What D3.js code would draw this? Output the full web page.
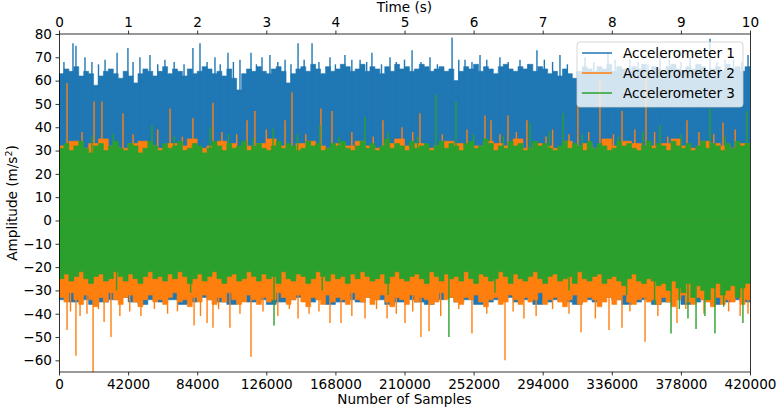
<!DOCTYPE html>
<html>
<head>
<meta charset="utf-8">
<script src="https://cdn.jsdelivr.net/npm/d3@7/dist/d3.min.js"></script>
<style>
  body { margin: 0; background: #fff; }
  svg { font-family: "DejaVu Sans", sans-serif; }
</style>
</head>
<body>
<svg id="chart" width="777" height="409"></svg>
<script>
// envelope of each accelerometer, read off the picture bin by bin
// (bin width = totalSamples / array length)
const totalSamples = 420000;
const seriesNames = ["Accelerometer 1", "Accelerometer 2", "Accelerometer 3"];
const colors = ["#1f77b4", "#ff7f0e", "#2ca02c"];

const blueUpper = [63, 65, 64, 66, 62, 64, 63, 58, 62, 64, 65, 63, 61, 64, 62, 59, 63, 65, 64, 62,
  64, 66, 63, 65, 64, 62, 65, 63, 64, 66, 65, 63, 64, 62, 65, 61, 56, 63, 65, 64,
  66, 64, 63, 65, 66, 64, 59, 63, 65, 66, 64, 67, 65, 63, 66, 64, 65, 67, 66, 64,
  65, 67, 64, 66, 65, 63, 66, 64, 67, 65, 66, 64, 65, 67, 66, 64, 65, 66, 64, 65,
  60, 64, 66, 65, 67, 64, 66, 65, 63, 66, 67, 65, 64, 66, 65, 67, 64, 66, 65, 63,
  64, 62, 65, 63, 61, 64, 66, 65, 64, 66, 65, 67, 64, 66, 65, 64, 66, 65, 67, 64,
  66, 65, 64, 66, 67, 65, 64, 66, 65, 67, 66, 64, 65, 66, 64, 67, 65, 66, 64, 66];
const blueLower = [-34, -35, -34, -36, -35, -34, -33, -35, -36, -34, -35, -34, -36, -35, -33, -34, -35, -36, -34, -35,
  -34, -36, -35, -34, -33, -35, -34, -36, -35, -34, -35, -33, -34, -36, -35, -34, -35, -36, -34, -33,
  -35, -34, -36, -35, -34, -33, -35, -34, -36, -35, -34, -35, -36, -34, -35, -33, -34, -36, -35, -34,
  -36, -35, -34, -36, -35, -34, -36, -35, -34, -35];

const orangeUpper = [32, 34, 31, 33, 35, 32, 31, 33, 34, 32, 31, 33, 32, 35, 31, 32, 34, 33, 31, 32,
  33, 35, 32, 31, 33, 34, 32, 31, 33, 32, 34, 32, 31, 33, 35, 32, 33, 31, 32, 34,
  33, 31, 32, 34, 33, 32, 35, 31, 33, 32, 31, 34, 32, 33, 31, 35, 32, 34, 33, 31,
  32, 33, 35, 32, 31, 34, 33, 32, 31, 33];
const orangeLower = [-33, -35, -31, -34, -36, -32, -34, -37, -33, -35, -31, -34, -36, -33, -32, -35, -37, -34, -32, -35,
  -34, -36, -33, -31, -35, -34, -37, -33, -35, -32, -34, -36, -33, -35, -31, -34, -36, -35, -32, -34,
  -36, -33, -35, -34, -31, -33, -36, -34, -32, -35, -37, -33, -34, -36, -32, -35, -33, -34, -36, -31,
  -34, -35, -33, -36, -34, -32, -35, -37, -33, -34, -36, -32, -35, -33, -34, -36, -35, -31, -34, -33,
  -35, -36, -33, -34, -32, -35, -37, -34, -33, -36, -35, -32, -34, -36, -33, -35, -34, -31, -36, -34,
  -33, -35, -37, -34, -32, -36, -35, -33, -34, -37, -35, -33, -36, -34, -32, -35, -36, -34, -33, -35,
  -34, -36, -33, -35, -37, -34, -32, -35, -36, -33, -34, -35, -37, -33, -36, -34, -35, -33, -36, -34];

const greenUpper = [31, 33, 30, 32, 34, 31, 29, 32, 33, 30, 32, 34, 31, 30, 33, 32, 29, 31, 34, 32,
  30, 33, 31, 32, 34, 30, 31, 33, 32, 29, 31, 34, 32, 30, 33, 31, 32, 34, 30, 32,
  33, 31, 30, 32, 34, 31, 33, 32, 30, 31, 34, 32, 33, 30, 31, 33, 32, 34, 31, 30,
  32, 34, 31, 33, 30, 32, 35, 31, 33, 32, 30, 34, 31, 32, 33, 30, 32, 34, 31, 33,
  32, 30, 33, 34, 31, 32, 35, 33, 30, 32, 31, 34, 32, 33, 30, 31, 34, 32, 33, 31,
  30, 32, 34, 31, 33, 32, 30, 34, 31, 33, 32, 30, 31, 34, 32, 33, 31, 30, 32, 34,
  31, 33, 32, 30, 34, 32, 31, 33, 30, 32, 34, 31, 33, 32, 30, 33, 31, 34, 32, 33];
const greenLower = [-25, -23, -26, -24, -22, -25, -27, -24, -23, -26, -25, -22, -24, -26, -23, -25, -27, -24, -22, -25,
  -24, -26, -23, -25, -22, -24, -27, -25, -23, -26, -24, -22, -25, -27, -24, -23, -26, -25, -22, -24,
  -26, -23, -25, -24, -27, -22, -25, -26, -23, -24, -27, -25, -22, -24, -26, -23, -25, -24, -27, -23,
  -25, -22, -24, -26, -25, -23, -27, -24, -22, -25, -26, -24, -23, -25, -27, -22, -24, -26, -23, -25,
  -24, -26, -22, -25, -27, -23, -24, -26, -25, -22, -24, -27, -23, -25, -26, -24, -22, -25, -27, -24,
  -23, -26, -25, -24, -27, -22, -25, -26, -24, -23, -27, -25, -24, -26, -28, -25, -23, -26, -27, -25,
  -26, -28, -27, -30, -26, -29, -31, -27, -33, -28, -30, -34, -29, -27, -32, -30, -28, -33, -29, -27];

// isolated peaks: [sample index, amplitude]
const blueSpikes = [[8500, 76], [10300, 75], [15800, 70], [28000, 69], [35300, 72], [41900, 74],
  [49200, 70], [55300, 71], [64400, 69], [81400, 74], [85700, 76], [94800, 70], [102700, 72],
  [110000, 69], [116700, 72], [123400, 70], [128200, 71], [137400, 69], [145300, 76], [153800, 76],
  [164700, 70], [173800, 71], [183000, 69], [190200, 72], [201200, 70], [214600, 73], [225500, 70],
  [238900, 78.5], [246800, 69], [255900, 71], [268000, 70], [280200, 69], [290500, 73], [304500, 71],
  [319700, 70], [333700, 72], [347000, 69], [365300, 71], [383500, 70], [395700, 78], [404800, 69],
  [418800, 71],
  [3000, 68], [20000, 68], [24000, 67], [45000, 68], [60000, 67], [70000, 68], [76000, 67],
  [90000, 68], [98000, 67], [106000, 68], [120000, 67], [133000, 68], [141000, 67], [149000, 69],
  [158000, 68], [168000, 67], [178000, 69], [187000, 68], [196000, 67], [205000, 68], [210000, 69],
  [220000, 68], [230000, 67], [243000, 69], [251000, 68], [260000, 69], [273000, 68], [285000, 67],
  [295000, 69], [300000, 68], [309000, 67], [325000, 68], [338000, 69], [352000, 68], [358000, 67],
  [371000, 69], [378000, 68], [390000, 67], [400000, 68], [410000, 69], [415000, 68]];
const orangeSpikes = [[4900, 59], [21300, 51], [26100, 51], [38900, 46], [67500, 48], [81400, 44],
  [93600, 50.5], [114300, 43], [119100, 47], [137400, 43], [141600, 55], [159200, 48], [165900, 47],
  [196900, 43], [208500, 40], [219400, 46], [258900, 45], [262600, 43], [272900, 45], [284400, 43],
  [315400, 49.6], [328800, 60], [342200, 47], [356800, 61.5], [381700, 43], [403600, 42],
  [14000, 38], [45000, 37], [60000, 39], [75000, 36], [99000, 38], [108000, 37], [126000, 39],
  [150000, 37], [178000, 38], [191000, 36], [215000, 38], [233000, 37], [248000, 39], [268000, 37],
  [278000, 38], [296000, 36], [300000, 39], [310000, 37], [322000, 38], [337000, 37], [350000, 39],
  [362000, 38], [370000, 36], [389000, 38], [398000, 37], [411000, 39],
  [4900, -47], [10300, -58], [12800, -41], [20700, -65], [27400, -43.5], [31600, -50], [49800, -41],
  [82100, -45], [90000, -44], [93600, -46], [103900, -46], [116700, -58.5], [145300, -42],
  [164700, -44], [171400, -44], [186000, -42], [199400, -42], [210300, -44], [220000, -50],
  [224900, -47.5], [251000, -48.5], [271100, -60], [282600, -42], [317300, -48], [334300, -47],
  [342200, -46], [356200, -52], [375600, -44], [418800, -40],
  [7000, -39], [17000, -40], [24000, -38], [37000, -41], [43000, -39], [58000, -38], [66000, -40],
  [72000, -39], [86000, -41], [97000, -38], [110000, -40], [124000, -39], [133000, -41], [140000, -38],
  [152000, -40], [158000, -39], [178000, -41], [193000, -38], [205000, -40], [215000, -39],
  [232000, -41], [243000, -38], [260000, -40], [276000, -39], [290000, -41], [300000, -38],
  [310000, -40], [326000, -42], [347000, -39], [364000, -41], [381000, -38], [392000, -40],
  [407000, -39], [414000, -41]];
const greenSpikes = [[229100, 54], [241300, 51], [306300, 46], [395700, 48], [418200, 47],
  [186000, 44.5], [56500, 41], [91800, 40], [130100, 39.5], [158600, 41], [286300, 42], [365300, 41],
  [20000, 36], [33000, 37], [70000, 36], [103000, 37], [118000, 35.5], [145000, 37], [170000, 36],
  [200000, 38], [218000, 36], [252000, 37], [270000, 36], [298000, 38], [318000, 37], [340000, 36],
  [355000, 38], [378000, 37], [405000, 36],
  [130700, -45], [237000, -50], [372000, -48.5], [387200, -46.5], [398700, -48.5], [415700, -44],
  [382300, -42], [392600, -41], [35000, -30], [80000, -31], [160000, -30], [200000, -32],
  [265000, -31], [310000, -30], [345000, -32], [362000, -36], [377000, -38], [404000, -37]];

const timeTicks = [0, 1, 2, 3, 4, 5, 6, 7, 8, 9, 10];
const sampleTicks = [0, 42000, 84000, 126000, 168000, 210000, 252000, 294000, 336000, 378000, 420000];
const ampTicks = [-60, -50, -40, -30, -20, -10, 0, 10, 20, 30, 40, 50, 60, 70, 80];

const series = [
  { upper: blueUpper, lower: blueLower, spikes: blueSpikes },
  { upper: orangeUpper, lower: orangeLower, spikes: orangeSpikes },
  { upper: greenUpper, lower: greenLower, spikes: greenSpikes }
];

const margin = { top: 34, right: 27, bottom: 37, left: 59 };
const width = 777, height = 409;
const svg = d3.select("#chart");

const x = d3.scaleLinear().domain([0, totalSamples]).range([margin.left, width - margin.right]);
const xTime = d3.scaleLinear().domain([0, 10]).range(x.range());
const y = d3.scaleLinear().domain([-65, 80]).range([height - margin.bottom, margin.top]);

svg.append("defs").append("clipPath").attr("id", "plotClip")
  .append("rect")
    .attr("x", margin.left).attr("y", margin.top)
    .attr("width", x.range()[1] - x.range()[0])
    .attr("height", y.range()[0] - y.range()[1]);

const plotG = svg.append("g").attr("clip-path", "url(#plotClip)");

const edge = d3.area()
  .curve(d3.curveStepAfter)
  .x(d => x(d.s))
  .y0(d => y(d.base))
  .y1(d => y(d.v));

const toPts = arr => {
  const step = totalSamples / arr.length;
  const pts = arr.map((v, i) => ({ s: i * step, v: v, base: 0 }));
  pts.push({ s: totalSamples, v: arr[arr.length - 1], base: 0 });
  return pts;
};

series.forEach((s, k) => {
  const g = plotG.append("g");
  [s.upper, s.lower].forEach(arr => {
    g.append("path")
      .datum(toPts(arr))
      .attr("d", edge)
      .attr("fill", colors[k])
      .attr("stroke", colors[k])
      .attr("stroke-width", 0.6);
  });
  g.selectAll("line.spike")
    .data(s.spikes)
    .join("line")
      .attr("class", "spike")
      .attr("x1", d => x(d[0])).attr("x2", d => x(d[0]))
      .attr("y1", d => y(d[1] > 0 ? 20 : -20))
      .attr("y2", d => y(d[1]))
      .attr("stroke", colors[k])
      .attr("stroke-width", 1.4);
});

// frame + axes
const fontSize = 13.6;
const styleAxis = g => {
  g.select(".domain").remove();
  g.selectAll(".tick line").attr("stroke", "#000").attr("stroke-width", 0.8);
  g.selectAll(".tick text").attr("fill", "#000").style("font-size", fontSize + "px")
    .style("font-family", "DejaVu Sans");
};

svg.append("g")
  .attr("transform", `translate(0,${y.range()[0]})`)
  .call(d3.axisBottom(x).tickValues(sampleTicks).tickFormat(d3.format("d")).tickSize(3.5).tickPadding(4))
  .call(styleAxis);

svg.append("g")
  .attr("transform", `translate(0,${margin.top})`)
  .call(d3.axisTop(xTime).tickValues(timeTicks).tickFormat(d3.format("d")).tickSize(3.5).tickPadding(4))
  .call(styleAxis);

svg.append("g")
  .attr("transform", `translate(${margin.left},0)`)
  .call(d3.axisLeft(y).tickValues(ampTicks).tickFormat(d => d < 0 ? "\u2212" + Math.abs(d) : d).tickSize(3.5).tickPadding(3.5))
  .call(styleAxis);

svg.append("rect")
  .attr("x", x.range()[0] + 0.5).attr("y", y.range()[1])
  .attr("width", x.range()[1] - x.range()[0]).attr("height", y.range()[0] - y.range()[1])
  .attr("fill", "none").attr("stroke", "#000").attr("stroke-width", 0.8);

svg.append("text")
  .attr("x", (x.range()[0] + x.range()[1]) / 2).attr("y", 12)
  .attr("text-anchor", "middle").style("font-size", fontSize + "px")
  .text("Time (s)");

svg.append("text")
  .attr("x", (x.range()[0] + x.range()[1]) / 2).attr("y", 404)
  .attr("text-anchor", "middle").style("font-size", fontSize + "px")
  .text("Number of Samples");

const yTitle = svg.append("text")
  .attr("transform", `translate(17,${(y.range()[0] + y.range()[1]) / 2}) rotate(-90)`)
  .attr("text-anchor", "middle").style("font-size", fontSize + "px");
yTitle.append("tspan").text("Amplitude (m/s");
yTitle.append("tspan").attr("dy", -5).style("font-size", "9.5px").text("2");
yTitle.append("tspan").attr("dy", 5).text(")");

// legend
const legend = svg.append("g").attr("transform", "translate(577,42)");
legend.append("rect")
  .attr("width", 166).attr("height", 65).attr("rx", 3)
  .attr("fill", "#fff").attr("fill-opacity", 0.8)
  .attr("stroke", "#ccc").attr("stroke-width", 0.8);
seriesNames.forEach((name, i) => {
  const row = legend.append("g").attr("transform", `translate(0,${11 + i * 20})`);
  row.append("line").attr("x1", 5).attr("x2", 35)
    .attr("stroke", colors[i]).attr("stroke-width", 1.5);
  row.append("text").attr("x", 46).attr("dy", "0.35em")
    .style("font-size", fontSize + "px").text(name);
});
</script>
</body>
</html>
